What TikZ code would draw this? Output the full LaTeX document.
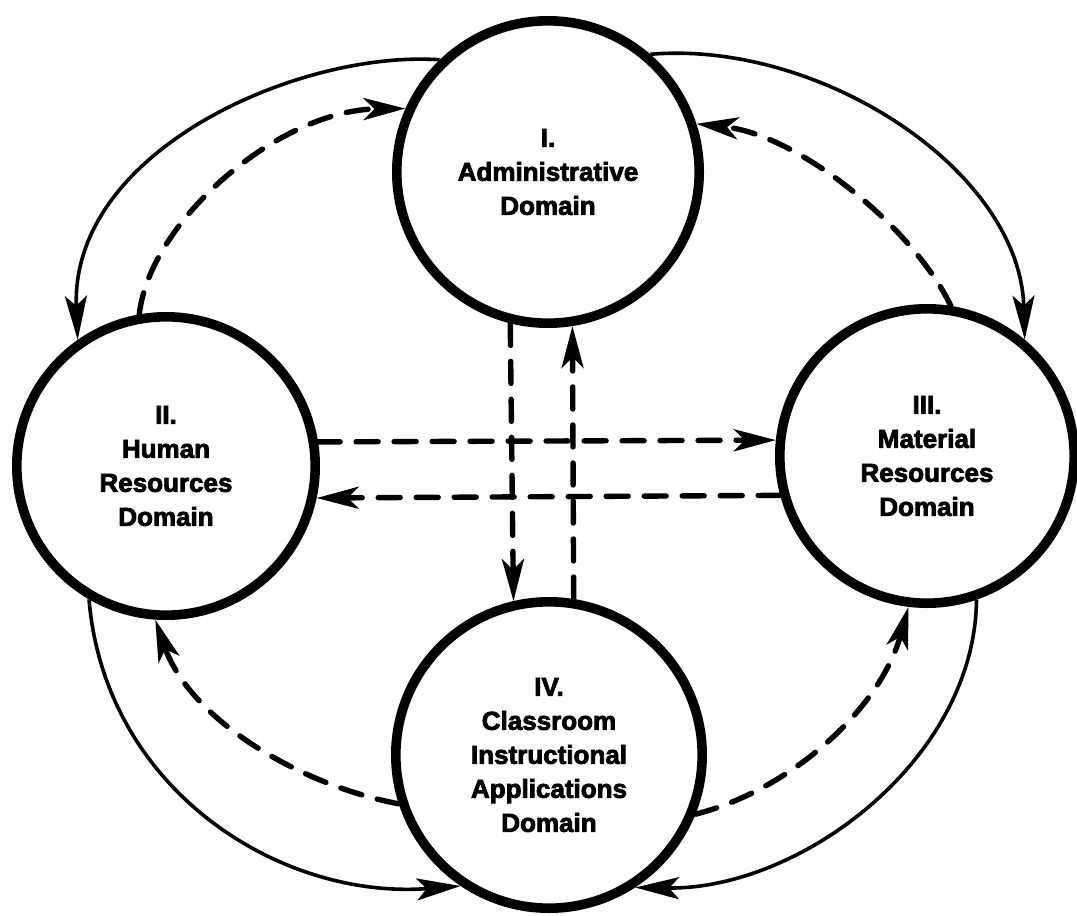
\documentclass[tikz,border=0pt]{standalone}
\usepackage{fontspec}
\setmainfont{Liberation Sans}
\newfontfamily\heavyfont{Liberation Sans Bold}[FakeBold=3]
\usetikzlibrary{arrows.meta}
\begin{document}
\begin{tikzpicture}[x=0.5pt,y=-0.5pt,
  dombox/.style={circle,draw,line width=4.8pt,inner sep=0pt,align=center,
    font=\fontsize{13}{17}\selectfont\heavyfont},
  link/.style={line width=1.8pt,-{Stealth[length=22pt,width=11pt,inset=5pt]}},
  dlink/.style={line width=2.7pt,dash pattern=on 11pt off 8pt,line cap=round,
    -{Stealth[length=21pt,width=11pt,inset=5.5pt]}}]
\useasboundingbox (0,0) rectangle (1077,916);
\node[dombox,minimum size=151.2pt] (I) at (548,172) {I.\\Administrative\\Domain};
\node[dombox,minimum size=149.2pt] (II) at (166,466) {II.\\Human\\Resources\\Domain};
\node[dombox,minimum size=147.2pt] (III) at (927,456) {III.\\Material\\Resources\\Domain};
\node[dombox,minimum size=153.2pt] (IV) at (549,755) {IV.\\Classroom\\Instructional\\Applications\\Domain};
% outer solid arcs
\draw[link] (I.134) .. controls (300,50) and (70,150) .. (II.125.2);
\draw[link] (I.49.3) .. controls (820,40) and (1020,170) .. (III.50.9);
\draw[link] (II.240.5) .. controls (105,790) and (280,900) .. (IV.236.2);
\draw[link] (III.289.8) .. controls (975,760) and (800,890) .. (IV.303.1);
% inner dashed arcs
\draw[dlink] (II.100.4) .. controls (150,220) and (280,110) .. (I.156.3);
\draw[dlink] (III.81.3) .. controls (915,230) and (800,135) .. (I.18.9);
\draw[dlink] (IV.198.8) .. controls (300,785) and (190,720) .. (II.266.1);
\draw[dlink] (IV.338.1) .. controls (790,790) and (880,710) .. (III.263.2);
% straight dashed links
\draw[dlink] (II.9.3) -- (III.174.3);
\draw[dlink] (III.195.65) -- (II.348.4);
\draw[dlink] (I.256.7) -- (IV.103.5);
\draw[dlink] (IV.81.3) -- (I.279.2);
\end{tikzpicture}
\end{document}
